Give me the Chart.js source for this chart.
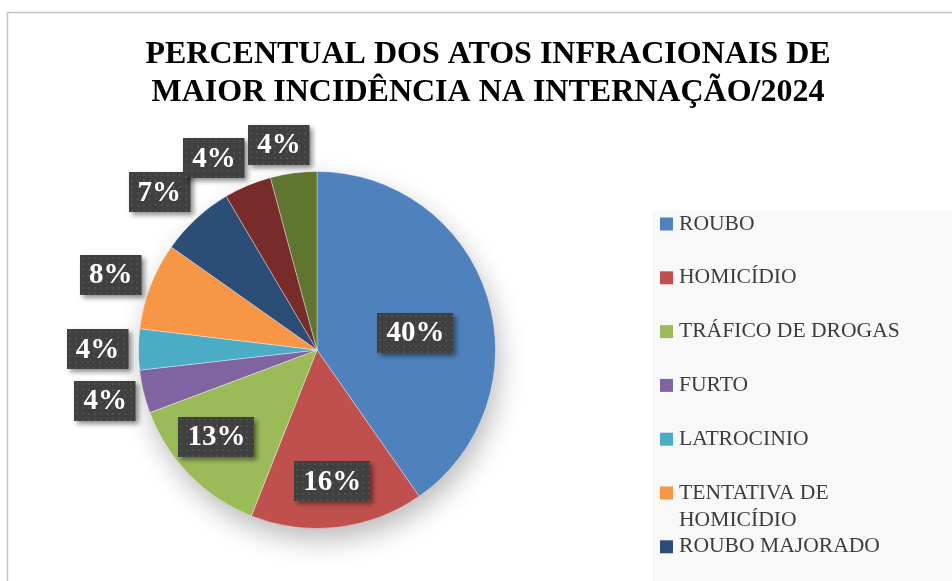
<!DOCTYPE html>
<html>
<head>
<meta charset="utf-8">
<script src="https://cdn.jsdelivr.net/npm/chart.js@4/dist/chart.umd.min.js"></script>
<style>
  html, body { margin: 0; padding: 0; background: #fff; }
  #chart { display: block; }
</style>
</head>
<body>
<canvas id="chart" width="952" height="581"></canvas>
<script>
// Data
const titleLines = ['PERCENTUAL DOS ATOS INFRACIONAIS DE', 'MAIOR INCIDÊNCIA NA INTERNAÇÃO/2024'];
const categories = ['ROUBO', 'HOMICÍDIO', 'TRÁFICO DE DROGAS', 'FURTO', 'LATROCINIO',
    'TENTATIVA DE HOMICÍDIO', 'ROUBO MAJORADO', 'PORTE ILEGAL DE ARMA', 'ESTUPRO'];
const shares = [40.3, 15.7, 13.3, 3.9, 3.7, 7.9, 6.7, 4.3, 4.2];
const sliceColors = ['#4F81BD', '#C0504D', '#9BBB59', '#8064A2', '#4BACC6',
    '#F79646', '#2C4D75', '#772C2A', '#5F7530'];

// label placement (style only): radius factor and angle nudge in degrees
const labelRadius = [0.56, 0.74, 0.745, 1.22, 1.23, 1.23, 1.25, 1.22, 1.17];
const labelShift = [7.6, 0, 3.6, 0, 0, -1, -2.3, -5.4, -2.9];

const total = shares.reduce((a, b) => a + b, 0);

// dotted fill for the label boxes
function makeDots() {
    const c = document.createElement('canvas');
    c.width = 6; c.height = 6;
    const g = c.getContext('2d');
    g.fillStyle = '#404040';
    g.fillRect(0, 0, 6, 6);
    g.fillStyle = '#4f4f4f';
    g.fillRect(2, 2, 2, 2);
    return g;
}

const framePlugin = {
    id: 'frame',
    beforeDraw(chart) {
        const ctx = chart.ctx;
        ctx.save();
        ctx.fillStyle = '#ffffff';
        ctx.fillRect(0, 0, chart.width, chart.height);
        ctx.strokeStyle = '#c4c4c4';
        ctx.lineWidth = 1.5;
        ctx.strokeRect(7.5, 12.5, chart.width + 10, chart.height + 10);

        // title
        ctx.fillStyle = '#000';
        ctx.font = 'bold 32px "Liberation Serif", "Times New Roman", serif';
        ctx.textAlign = 'center';
        ctx.textBaseline = 'alphabetic';
        titleLines.forEach((t, i) => ctx.fillText(t, 488, 63 + i * 38));

        // legend
        ctx.fillStyle = '#f8f8f8';
        ctx.fillRect(652, 211, chart.width - 652, chart.height - 211);
        ctx.font = '21.6px "Liberation Serif", "Times New Roman", serif';
        ctx.textAlign = 'left';
        ctx.textBaseline = 'middle';
        categories.forEach((name, i) => {
            const y = 224 + i * 53.8;
            ctx.fillStyle = sliceColors[i];
            ctx.fillRect(660, y - 6.5, 13, 13);
            ctx.fillStyle = '#3c3c3c';
            const words = name.split(' ');
            const lines = [];
            let line = '';
            words.forEach(w => {
                const test = line ? line + ' ' + w : w;
                if (line && ctx.measureText(test).width > 235) {
                    lines.push(line);
                    line = w;
                } else {
                    line = test;
                }
            });
            lines.push(line);
            lines.forEach((l, k) => ctx.fillText(l, 679, y + k * 27));
        });
        ctx.restore();
    },
    beforeDatasetsDraw(chart) {
        // soft shadow under the pie
        const arc = chart.getDatasetMeta(0).data[0];
        if (!arc) return;
        const ctx = chart.ctx;
        ctx.save();
        ctx.shadowColor = 'rgba(0,0,0,0.28)';
        ctx.shadowBlur = 28;
        ctx.shadowOffsetX = 4;
        ctx.shadowOffsetY = 12;
        ctx.fillStyle = '#ffffff';
        ctx.beginPath();
        ctx.arc(arc.x, arc.y, arc.outerRadius - 1, 0, Math.PI * 2);
        ctx.fill();
        ctx.restore();
    },
    afterDatasetsDraw(chart) {
        const ctx = chart.ctx;
        const dots = ctx.createPattern(makeDots().canvas, 'repeat');
        const meta = chart.getDatasetMeta(0);
        ctx.save();
        ctx.font = 'bold 29px "Liberation Serif", "Times New Roman", serif';
        ctx.textAlign = 'center';
        ctx.textBaseline = 'middle';
        meta.data.forEach((arc, i) => {
            const mid = (arc.startAngle + arc.endAngle) / 2 + labelShift[i] * Math.PI / 180;
            const r = arc.outerRadius * labelRadius[i];
            const cx = arc.x + Math.cos(mid) * r;
            const cy = arc.y + Math.sin(mid) * r;
            const text = Math.round(shares[i] / total * 100) + '%';
            const w = ctx.measureText(text).width + 18;
            const h = 40;
            ctx.save();
            ctx.shadowColor = 'rgba(0,0,0,0.45)';
            ctx.shadowBlur = 5;
            ctx.shadowOffsetX = 3;
            ctx.shadowOffsetY = 3;
            ctx.fillStyle = dots;
            ctx.translate(Math.round(cx - w / 2), Math.round(cy - h / 2));
            ctx.fillRect(0, 0, w, h);
            ctx.restore();
            ctx.fillStyle = '#ffffff';
            ctx.fillText(text, cx, cy + 1);
        });
        ctx.restore();
    }
};

new Chart(document.getElementById('chart'), {
    type: 'pie',
    data: {
        labels: categories,
        datasets: [{
            data: shares,
            backgroundColor: sliceColors,
            borderColor: 'rgba(255,255,255,0.35)',
            borderWidth: 1
        }]
    },
    options: {
        responsive: false,
        animation: false,
        layout: {
            padding: { left: 138, right: 456, top: 171, bottom: 52 }
        },
        plugins: {
            legend: { display: false },
            title: { display: false },
            tooltip: { enabled: false }
        }
    },
    plugins: [framePlugin]
});
</script>
</body>
</html>
